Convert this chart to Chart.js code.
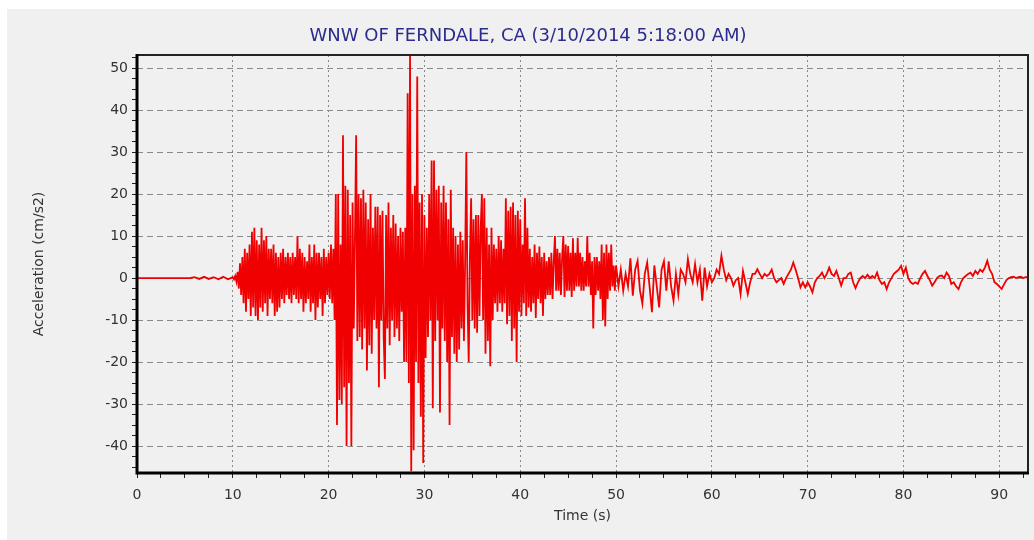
<!DOCTYPE html>
<html>
<head>
<meta charset="utf-8">
<title>WNW of Ferndale, CA accelerogram</title>
<script src="https://cdn.jsdelivr.net/npm/chart.js@4/dist/chart.umd.min.js"></script>
<style>
  html, body { margin: 0; padding: 0; background: #ffffff; }
  #frame { position: absolute; left: 7px; top: 9px; width: 1027px; height: 531px; background: #f0f0f0; }
  canvas { display: block; }
</style>
</head>
<body>
<div id="frame"><canvas id="accel-chart" width="1027" height="531"></canvas></div>
<script>
// ── Record data ───────────────────────────────────────────────
// Pre-event noise, one sample every 0.5 s from 0 s
const preStart = 0;
const preStep  = 0.5;
const preAccel = [0, 0, 0, 0, 0, 0, 0, 0, 0, 0, 0, 0, 0.2, -0.2, 0.3, -0.2, 0.2, -0.3, 0.3, -0.3];

// Strong motion, 8 samples per second from 10 s (one row per second)
const strongStart = 10;
const strongStep  = 0.125;
const strongAccel = [
  0.2, -0.3, 0.5, -0.8, 1.5, -2.5, 3.5, -4,     // 10
  5, -6, 7, -8, 6, -5, 8, -9,                   // 11
  11, -7, 12, -9, 9, -10, 8, -7,                // 12
  12, -8, 9, -6, 10, -9, 7, -5,                 // 13
  7, -6, 8, -9, 6, -8, 5, -7,                   // 14
  6, -5, 7, -6, 5, -4, 6, -5,                   // 15
  5, -6, 6, -4, 5, -5, 10, -6,                  // 16
  7, -5, 6, -8, 5, -6, 4, -5,                   // 17
  8, -8, 5, -6, 8, -10, 6, -7,                  // 18
  6, -5, 5, -9, 7, -6, 5, -4,                   // 19
  6, -5, 8, -6, 7, -10, 20, -35,                // 20
  20, -29, 8, -30, 34, -26, 22, -40,            // 21
  21, -25, 15, -40, 18, -12, 10, 34,            // 22
  -15, 20, -14, 19, -17, 21, -12, 18,           // 23
  -22, 14, -16, 20, -18, 12, -10, 17,           // 24
  -12, 17, -26, 15, -10, 16, -14, -24,          // 25
  15, -12, 18, -16, 12, -10, 15, -14,           // 26
  13, -12, 10, -15, 12, -8, 11, -20,            // 27
  12, -20, 44, -25, 53, -46, 20, -41,           // 28
  22, -20, 48, -25, 18, -33, 20, -44,           // 29
  15, -19, 12, -14, 20, -10, 28, -31,           // 30
  28, -15, 21, -10, 22, -32, 18, -12,           // 31
  22, -15, 18, -20, 14, -35, 21, -14,           // 32
  12, -18, 10, -20, 8, -17, 11, -12,            // 33
  9, -15, 4, 30, -6, -20, 5, 19,                // 34
  -10, 14, -12, 15, -13, 15, -9, 12,            // 35
  20, -10, 19, -18, 12, -15, 8, -21,            // 36
  12, -10, 8, -6, 7, -8, 10, -6,                // 37
  9, -8, 7, -6, 19, -11, 16, -9,                // 38
  17, -15, 18, -12, 15, -20, 16, -8,            // 39
  14, -9, 8, -6, 19, -9, 12, -7,                // 40
  7, -8, 5, -6, 8, -9.5, 6, -5,                 // 41
  7.5, -6, 5, -9, 6, -5, 4, -4,                 // 42
  5, -4, 6, -5, 4, 10, -3, 7,                   // 43
  -3, 6, -4, 5, 10, -4.5, 8, -3,                // 44
  7.6, -3, 6, -4.5, 9.5, -3, 6, -2,             // 45
  9.6, -2, 6, -3, 5, -3, 4, -2,                 // 46
  10, -2, 6, -4, 4, -12, 5, -4,                 // 47
  5, -3, 4, -5, 8, -10, 6, -11.5,               // 48
  8, -5, 6, -3, 8, -2, 3, -3,                   // 49
];

// Coda, 4 samples per second from 50 s (one row per second)
const codaStart = 50;
const codaStep  = 0.25;
const codaAccel = [
  3, -2, 2, -3,          // 50
  1, -2, 4.7, -4.2,      // 51
  2, 4.1, -3, -6.1,      // 52
  1, 3.7, -2, -8.1,      // 53
  3, -2, -7, 2,          // 54
  4, -3, 4, -2,          // 55
  -5.4, 1, -3.8, 2,      // 56
  1, -1, 4.5, 1,         // 57
  -1, 3.3, -1, 2,        // 58
  -5.4, 2.5, -2, 1,      // 59
  -1, 0, 2, 1,           // 60
  5.3, 2, -0.5, 1,       // 61
  0, -1.8, -0.5, 0,      // 62
  -3.8, 1.7, -1, -3.8,   // 63
  -1, 1, 1, 2.1,         // 64
  1, 0, 1, 0.5,          // 65
  1, 2, 0, -1,           // 66
  -0.5, 0, -1.4, 0,      // 67
  1, 2, 3.7, 2,          // 68
  0, -2.2, -1, -2.2,     // 69
  -1, -2, -3.4, -1,      // 70
  0, 0.5, 1.3, 0,        // 71
  1, 2.5, 1, 0.5,        // 72
  1.7, 0, -1.8, 0,       // 73
  0, 1, 1.3, -1,         // 74
  -2.4, -1, 0, 0.5,      // 75
  0, 0.8, 0, 0.5,        // 76
  0, 1.3, -0.5, -1.4,    // 77
  -1, -2.6, -1, 0,       // 78
  1, 1.5, 2, 2.9,        // 79
  1, 2.5, 0, -1,         // 80
  -1.4, -1, -1.4, 0,     // 81
  1, 1.7, 0.5, -0.5,     // 82
  -1.8, -1, 0, 0.5,      // 83
  0.6, 0, 1.3, 0.5,      // 84
  -1.4, -1, -2, -2.6,    // 85
  -1, 0, 0.5, 1,         // 86
  1.3, 0.5, 1.7, 1,      // 87
  2, 1.5, 2.5, 4.1,      // 88
  2, 1, -1, -1.4,        // 89
  -2, -2.6, -1.5, -0.5,  // 90
  0, 0.2, 0.3, 0,        // 91
  0.2, 0.3, 0, 0.2,      // 92
  0.2,                   // 93
];

const titleText = 'WNW OF FERNDALE, CA (3/10/2014 5:18:00 AM)';
const xTitle    = 'Time (s)';
const yTitle    = 'Acceleration (cm/s2)';

// ── Helpers ───────────────────────────────────────────────────
const toPoints = (start, step, values) => values.map((v, i) => ({ x: start + i * step, y: v }));
const isMajor  = v => Math.abs(v / 10 - Math.round(v / 10)) < 1e-6;

const TICK_FONT = { family: 'DejaVu Sans', size: 14 };

/** Heavy black left/bottom axes and thin top/right frame, drawn over the trace. */
const plotFrame = {
  id: 'plotFrame',
  afterDatasetsDraw(chart) {
    const { ctx, chartArea: a } = chart;
    ctx.save();
    ctx.setLineDash([]);
    ctx.strokeStyle = '#222';
    ctx.lineWidth = 2;
    ctx.beginPath();
    ctx.moveTo(a.left, a.top);
    ctx.lineTo(a.right, a.top);
    ctx.lineTo(a.right, a.bottom);
    ctx.stroke();
    ctx.strokeStyle = '#000';
    ctx.lineWidth = 3;
    ctx.beginPath();
    ctx.moveTo(a.left, a.top - 1);
    ctx.lineTo(a.left, a.bottom);
    ctx.lineTo(a.right + 1, a.bottom);
    ctx.stroke();
    ctx.restore();
  },
};

const gridColor = c => (c.tick && isMajor(c.tick.value) ? '#8a8a8a' : 'rgba(0,0,0,0)');

new Chart(document.getElementById('accel-chart'), {
  type: 'line',
  data: {
    datasets: [{
      label: 'Acceleration',
      data: [
        ...toPoints(preStart, preStep, preAccel),
        ...toPoints(strongStart, strongStep, strongAccel),
        ...toPoints(codaStart, codaStep, codaAccel),
      ],
      borderColor: '#f00000',
      borderWidth: 1.8,
      pointRadius: 0,
      tension: 0,
      fill: false,
    }],
  },
  options: {
    responsive: false,
    animation: false,
    devicePixelRatio: 1,
    // left padding shifts the title centre; the y-axis box is narrowed to match
    layout: { padding: { top: 0, left: 21, right: 6, bottom: 0 } },
    plugins: {
      legend: { display: false },
      tooltip: { enabled: false },
      title: {
        display: true,
        text: titleText,
        color: '#2c2c8c',
        font: { family: 'DejaVu Sans', size: 18, weight: 'normal' },
        padding: { top: 17, bottom: 7.4 },
      },
    },
    scales: {
      x: {
        type: 'linear',
        min: 0,
        max: 93,
        afterFit: s => { s.height = 67; },
        ticks: {
          stepSize: 2.5,
          autoSkip: false,
          maxRotation: 0,
          includeBounds: false,
          padding: 9,
          color: '#333',
          font: TICK_FONT,
          callback: v => (isMajor(v) ? String(Math.round(v)) : ''),
        },
        grid: { color: gridColor, lineWidth: 1, tickLength: 5, tickColor: '#222', tickBorderDash: [] },
        border: { display: false, dash: [2, 3] },
        title: { display: true, text: xTitle, color: '#333', font: TICK_FONT, padding: { top: 0, bottom: 15 } },
      },
      y: {
        type: 'linear',
        min: -46.4,
        max: 53.1,
        afterFit: s => { s.width = 109; },
        ticks: {
          stepSize: 2.5,
          autoSkip: false,
          includeBounds: false,
          padding: 4,
          color: '#333',
          font: TICK_FONT,
          callback: v => (isMajor(v) ? String(Math.round(v)) : ''),
        },
        grid: { color: gridColor, lineWidth: 1, tickLength: 5, tickColor: '#222', tickBorderDash: [] },
        border: { display: false, dash: [6, 4] },
        title: { display: true, text: yTitle, color: '#333', font: TICK_FONT, padding: { top: 3, bottom: 0 } },
      },
    },
  },
  plugins: [plotFrame],
});
</script>
</body>
</html>
